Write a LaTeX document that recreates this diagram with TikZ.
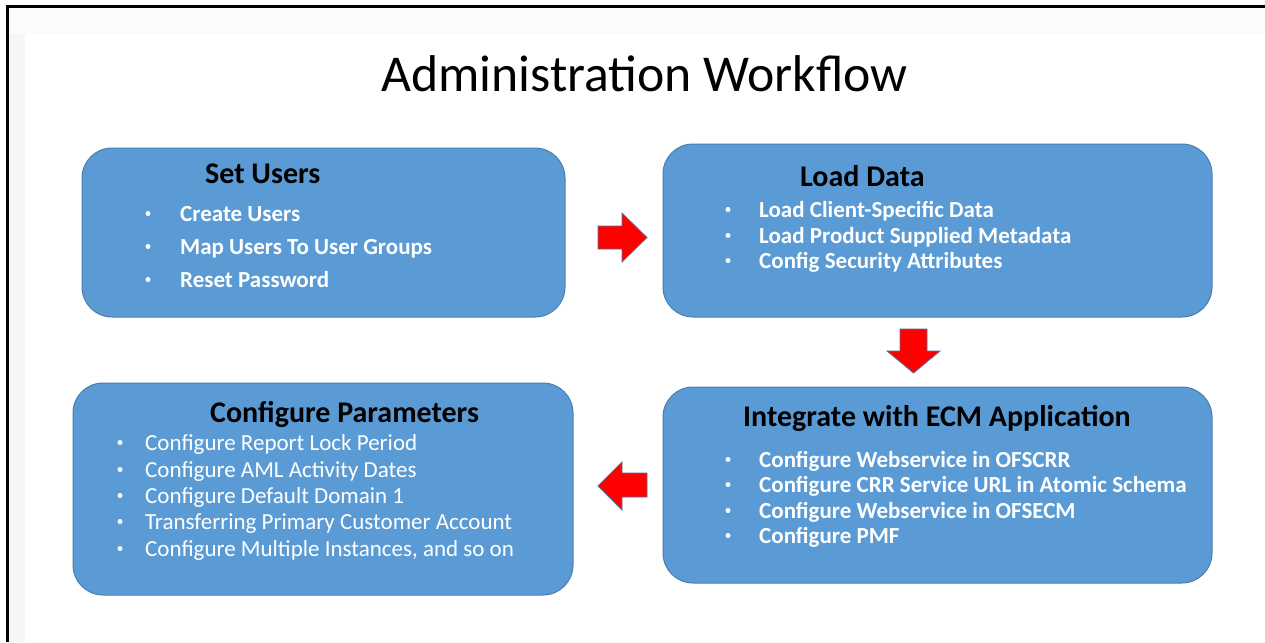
\documentclass[tikz,border=0pt]{standalone}
\usepackage{fontspec}
\setmainfont{Carlito}
\begin{document}
\begin{tikzpicture}[x=1pt,y=-1pt,
  box/.style={draw=boxline,line width=1pt,fill=boxblue,rounded corners=30pt},
  blockarrow/.style={fill=red,draw=arrowline,line width=0.8pt,line join=miter},
  boxtitle/.style={anchor=base west,inner sep=0pt,text=black,font=\fontsize{30}{34}\selectfont\bfseries},
  itemb/.style={anchor=base west,inner sep=0pt,text=white,font=\fontsize{23}{26}\selectfont\bfseries},
  itemr/.style={anchor=base west,inner sep=0pt,text=white,font=\fontsize{23}{26}\selectfont},
  bul/.style={circle,fill=white,inner sep=0pt,minimum size=5pt}]
\definecolor{boxblue}{HTML}{5B9BD5}
\definecolor{boxline}{HTML}{4A7EB0}
\definecolor{arrowline}{HTML}{5A6E9A}
\useasboundingbox (0,0) rectangle (1265,642);
\fill[white] (0,0) rectangle (1265,642);
\fill[gray!3] (9,8) rectangle (1265,34);
\fill[gray!7] (9,34) rectangle (25,642);
\fill[black] (6,5) rectangle (1265,8);
\fill[black] (6,5) rectangle (9,642);

\node[anchor=base west,inner sep=0pt,font=\fontsize{51.7}{56}\selectfont] (title) at (381,91) {Administration Workflow};

% boxes
\draw[box] (82,148) rectangle (565,317);
\draw[box] (663,144) rectangle (1212,317);
\draw[box] (663,387) rectangle (1212,583);
\draw[box] (73,383) rectangle (573,595);

% Set Users
\node[boxtitle] (t1) at (205,183) {Set Users};
\foreach \y/\txt [count=\i] in {221/Create Users,254/Map Users To User Groups,287/Reset Password}{
  \node[bul] (b1\i) at (148,\y-7.5) {};
  \node[itemb] (i1\i) at (180,\y) {\txt};
}

% Load Data
\node[boxtitle] (t2) at (800,186) {Load Data};
\foreach \y/\txt [count=\i] in {217/Load Client-Specific Data,243/Load Product Supplied Metadata,268/Config Security Attributes}{
  \node[bul] (b2\i) at (728,\y-7.5) {};
  \node[itemb] (i2\i) at (759,\y) {\txt};
}

% Integrate
\node[boxtitle] (t3) at (743,426) {Integrate with ECM Application};
\foreach \y/\txt [count=\i] in {467/Configure Webservice in OFSCRR,492/Configure CRR Service URL in Atomic Schema,518/Configure Webservice in OFSECM,543/Configure PMF}{
  \node[bul] (b3\i) at (728,\y-7.5) {};
  \node[itemb] (i3\i) at (759,\y) {\txt};
}

% Configure Parameters
\node[boxtitle] (t4) at (210,422) {Configure Parameters};
\foreach \y/\txt [count=\i] in {450/Configure Report Lock Period,477/Configure AML Activity Dates,503/Configure Default Domain 1,529/Transferring Primary Customer Account,556/{Configure Multiple Instances, and so on}}{
  \node[bul] (b4\i) at (120,\y-7.5) {};
  \node[itemr] (i4\i) at (145,\y) {\txt};
}

% block arrows
\draw[blockarrow] (598,226) -- (622,226) -- (622,213) -- (647,237.5) -- (622,262) -- (622,249) -- (598,249) -- cycle;
\draw[blockarrow] (900,329) -- (927,329) -- (927,351) -- (940,351) -- (913.5,373) -- (887,351) -- (900,351) -- cycle;
\draw[blockarrow] (647,473) -- (622,473) -- (622,462) -- (598,486) -- (622,510) -- (622,497) -- (647,497) -- cycle;
\end{tikzpicture}
\end{document}
